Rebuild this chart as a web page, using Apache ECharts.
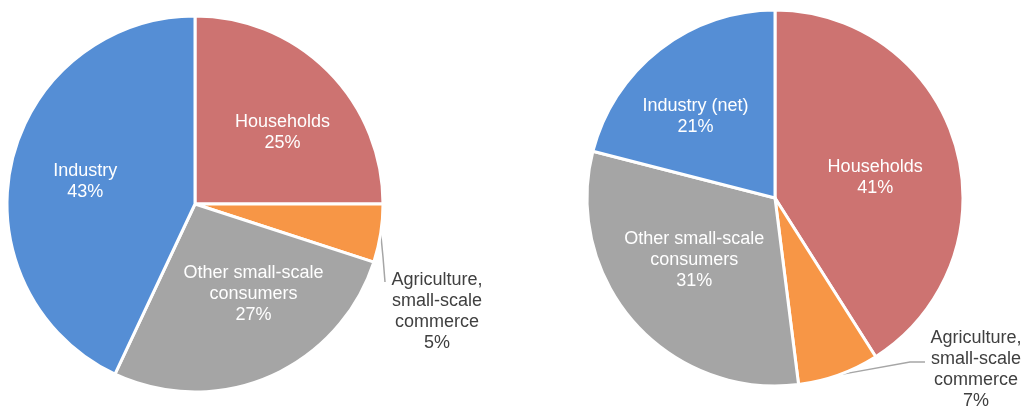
<!DOCTYPE html>
<html>
<head>
<meta charset="utf-8">
<script src="https://cdn.jsdelivr.net/npm/echarts@6/dist/echarts.min.js"></script>
<style>
  html, body { margin: 0; padding: 0; background: #ffffff; }
  #chart { width: 1026px; height: 408px; }
</style>
</head>
<body>
<div id="chart"></div>
<script>
// Shares of consumption by sector (percent), two breakdowns side by side
const categoriesLeft = ['Households', 'Agriculture,\nsmall-scale\ncommerce', 'Other small-scale\nconsumers', 'Industry'];
const valuesLeft = [25, 5, 27, 43];

const categoriesRight = ['Households', 'Agriculture,\nsmall-scale\ncommerce', 'Other small-scale\nconsumers', 'Industry (net)'];
const valuesRight = [41, 7, 31, 21];

const sliceColors = ['#CD7371', '#F79646', '#A5A5A5', '#558ED5'];

// Small nudges for the inside labels (px), by slice
const nudgeLeft = [[19, -3], [0, 0], [20, 1], [-15, -1]];
const nudgeRight = [[7, 7], [0, 0], [-8, -2], [-20, -5]];

// The small slice gets an outside label with a leader line
const OUTSIDE_INDEX = 1;
const outsideLeft = { text: [437, 312], line: [[383, 257], [385, 282]] };
const outsideRight = { text: [976, 370], line: [[910, 362], [925, 362]] };

const FONT = '"Liberation Sans", Arial, Helvetica, sans-serif';

function buildData(names, values, nudges) {
  return names.map((name, i) => {
    const item = { name: name, value: values[i], itemStyle: { color: sliceColors[i] } };
    if (i === OUTSIDE_INDEX) {
      item.label = {
        show: true, position: 'outside', color: '#404040',
        align: 'center'
      };
      item.labelLine = { show: true };
    } else {
      item.label = { show: true, position: 'inside', offset: nudges[i] };
      item.labelLine = { show: false };
    }
    return item;
  });
}

function buildSeries(names, values, nudges, center, outside) {
  return {
    type: 'pie',
    center: center,
    radius: 188,
    startAngle: 90,
    clockwise: true,
    animation: false,
    silent: true,
    avoidLabelOverlap: false,
    itemStyle: { borderColor: '#ffffff', borderWidth: 3 },
    label: {
      formatter: '{b}\n{c}%',
      color: '#ffffff',
      fontFamily: FONT,
      fontSize: 18,
      lineHeight: 21,
      align: 'center'
    },
    labelLine: {
      lineStyle: { color: '#A6A6A6', width: 1.5 },
      length: 20,
      length2: 10
    },
    labelLayout: function (params) {
      if (params.dataIndex !== OUTSIDE_INDEX) return {};
      const start = params.labelLinePoints ? params.labelLinePoints[0] : outside.line[0];
      return {
        x: outside.text[0],
        y: outside.text[1],
        align: 'center',
        verticalAlign: 'middle',
        labelLinePoints: [start, outside.line[0], outside.line[1]]
      };
    },
    data: buildData(names, values, nudges)
  };
}

const chart = echarts.init(document.getElementById('chart'), null, { renderer: 'canvas' });
chart.setOption({
  backgroundColor: '#ffffff',
  series: [
    buildSeries(categoriesLeft, valuesLeft, nudgeLeft, [195, 204], outsideLeft),
    buildSeries(categoriesRight, valuesRight, nudgeRight, [775, 198], outsideRight)
  ]
});
</script>
</body>
</html>
